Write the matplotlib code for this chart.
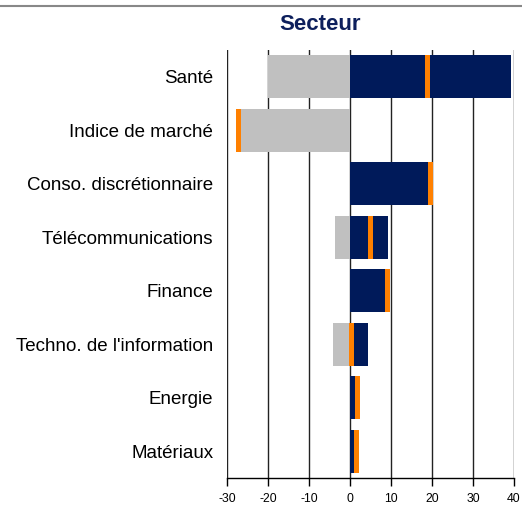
import numpy as np
import matplotlib.pyplot as plt
from matplotlib.lines import Line2D

plt.rcParams['font.family'] = ['Liberation Sans', 'DejaVu Sans']

secteurs = ['Santé', 'Indice de marché', 'Conso. discrétionnaire', 'Télécommunications',
            'Finance', "Techno. de l'information", 'Energie', 'Matériaux']
negatif = [-20.1, -26.7, 0.0, -3.6, 0.0, -4.1, 0.0, 0.0]
positif = [39.3, 0.0, 19.1, 9.3, 8.6, 4.5, 1.3, 1.0]
net = [18.9, -27.3, 19.7, 5.1, 9.2, 0.4, 1.9, 1.6]
graduations = [-30, -20, -10, 0, 10, 20, 30, 40]

navy = '#001a5a'
grey = '#c0c0c0'
orange = '#ff8000'

fig = plt.figure(figsize=(5.22, 5.07), dpi=100)
ax = fig.add_axes([0.4349, 0.0572, 0.5498, 0.8442])

y = np.arange(len(secteurs))
h = 0.8
ax.barh(y, negatif, height=h, color=grey, zorder=3)
ax.barh(y, positif, height=h, color=navy, zorder=3)
ax.barh(y, 1.2, left=np.array(net) - 0.6, height=h, color=orange, zorder=4)

# quadrillage vertical tous les 10
for g in graduations:
    ax.axvline(g, color='#222222', lw=1.0, zorder=1)

ax.set_xlim(-30, 40)
ax.set_ylim(len(secteurs) - 0.5, -0.5)
ax.set_xticks(graduations)
ax.set_xticklabels([str(g) for g in graduations], fontsize=8.8)
ax.set_yticks(y)
ax.set_yticklabels(secteurs, fontsize=13.5)
ax.tick_params(axis='y', length=0, pad=10)
ax.tick_params(axis='x', length=6, width=1, color='black', pad=5)

for s in ['top', 'right', 'left']:
    ax.spines[s].set_visible(False)
ax.spines['bottom'].set_color('black')
ax.spines['bottom'].set_linewidth(1.0)

fig.text(320 / 522, 1 - 24 / 507, 'Secteur', ha='center', va='center',
         fontsize=16, fontweight='bold', color='#0d1f5c')
fig.add_artist(Line2D([0, 1], [1 - 6 / 507, 1 - 6 / 507], color='#888888', lw=1.5,
                      transform=fig.transFigure))

fig.savefig('out.png', dpi=100)
